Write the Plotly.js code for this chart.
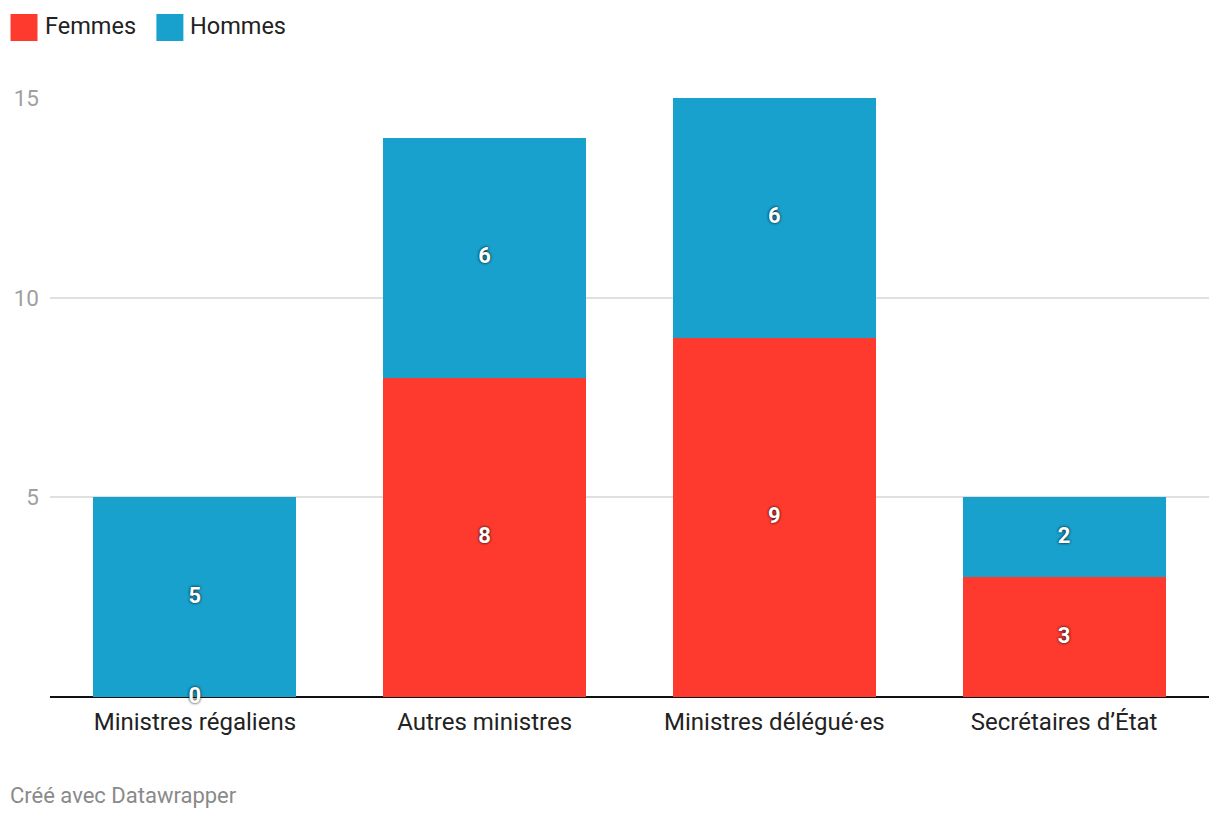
<!DOCTYPE html>
<html>
<head>
<meta charset="utf-8">
<script src="https://cdn.plot.ly/plotly-3.0.1.min.js"></script>
<style>html,body{margin:0;padding:0;background:#fff;}#chart{width:1220px;height:820px;}</style>
</head>
<body>
<div id="chart"></div>
<script>
var categories = ["Ministres régaliens", "Autres ministres", "Ministres délégué·es", "Secrétaires d’État"];
var seriesNames = ["Femmes", "Hommes"];
var femmes = [0, 8, 9, 3];
var hommes = [5, 6, 6, 2];
var colors = ["#fe3a2e", "#18a1cd"];
var yTicks = [5, 10, 15];

var series = [femmes, hommes];
var traces = [];
series.forEach(function(vals, i){
  traces.push({
    type: "bar", x: categories, y: vals, name: seriesNames[i],
    marker: {color: colors[i], line: {width: 0}},
    showlegend: false, hoverinfo: "x+y+name"
  });
});
// value labels at segment midpoints
var cum = categories.map(function(){return 0;});
series.forEach(function(vals, i){
  var mids = vals.map(function(v, j){ var m = cum[j] + v/2; cum[j] += v; return m; });
  traces.push({
    type: "scatter", mode: "text", x: categories, y: mids,
    text: vals.map(String), showlegend: false, hoverinfo: "skip", cliponaxis: false,
    textposition: "middle center",
    textfont: {family: "Roboto", size: 22, color: "#ffffff", weight: 700, shadow: "0px 0px 3px rgba(0,0,0,1)"}
  });
});

// custom legend
var shapes = [], annotations = [];
var lx = [10, 156];
seriesNames.forEach(function(n, i){
  shapes.push({type: "rect", xref: "paper", yref: "paper",
    x0: (lx[i] - 49.5)/1160, x1: (lx[i] + 27 - 49.5)/1160,
    y0: (697 - 41)/599, y1: (697 - 14)/599,
    fillcolor: colors[i], line: {width: 0}});
  annotations.push({xref: "paper", yref: "paper", x: (lx[i] + 32 - 49.5)/1160, y: (697 - 26)/599,
    xanchor: "left", yanchor: "middle", showarrow: false, text: n,
    font: {family: "Roboto", size: 23.5, color: "#222222"}});
});
annotations.push({xref: "paper", yref: "paper", x: (7 - 49.5)/1160, y: (697 - 795)/599,
  xanchor: "left", yanchor: "middle", showarrow: false, text: "Créé avec Datawrapper",
  font: {family: "Roboto", size: 22, color: "#8a8a8a"}});

var layout = {
  width: 1220, height: 820,
  margin: {l: 49.5, r: 10.5, t: 98, b: 123, pad: 0},
  paper_bgcolor: "#fff", plot_bgcolor: "#fff",
  barmode: "stack", bargap: 0.3,
  font: {family: "Roboto", color: "#222"},
  xaxis: {type: "category", tickfont: {family: "Roboto", size: 24, color: "#222"},
    showgrid: false, zeroline: false, showline: false, ticks: "", ticklabelstandoff: 8, fixedrange: true},
  yaxis: {range: [0, 15], tickvals: yTicks, ticktext: yTicks.map(String),
    tickfont: {family: "Roboto", size: 22.5, color: "#a0a0a0"},
    showgrid: true, gridcolor: "#e0e0e0", gridwidth: 2,
    zeroline: true, zerolinecolor: "#111", zerolinewidth: 2,
    showline: false, ticks: "", ticklabelstandoff: 10, fixedrange: true},
  shapes: shapes, annotations: annotations,
  showlegend: false
};
Plotly.newPlot("chart", traces, layout, {displayModeBar: false, staticPlot: true});
</script>
</body>
</html>
